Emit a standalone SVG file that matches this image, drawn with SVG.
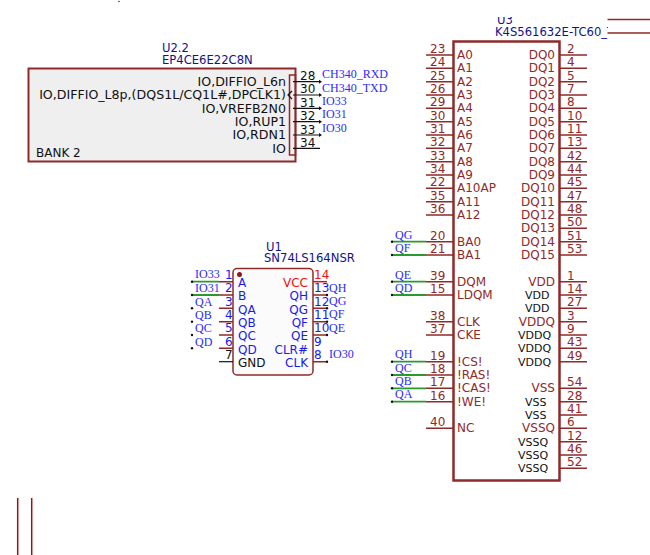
<svg xmlns="http://www.w3.org/2000/svg" width="650" height="555" viewBox="0 0 650 555">
<style>
text{font-family:"DejaVu Sans",sans-serif;font-size:12px}
.n{font-family:"Liberation Serif",serif;font-size:12px;fill:#2a2aff}
.r{text-anchor:end}
.m{fill:#8e2a2a}
.b{fill:#1a1aee}
.k{fill:#111}
.s{font-size:11px}
.u{font-size:12.600px}
.d{fill:#12128a;font-size:11.600px}
.p{stroke:#8e2a2a;stroke-width:1.5;fill:none}
.g{stroke:#2a9a2a;stroke-width:1.8;fill:none}
.w{stroke:#111;stroke-width:1.2;fill:none}
.box{stroke:#8e2a2a;stroke-width:2;fill:#efefef}
</style>
<defs>
<clipPath id="u3clip"><rect x="380" y="17" width="228" height="30"/></clipPath>
</defs>
<g id="U2_2">
<rect class="box" x="28.5" y="68.5" width="267" height="93"/>
<rect x="289.5" y="75" width="6" height="80" fill="none" stroke="#8e2a2a" stroke-width="1.5"/>
<text class="d" x="162" y="52">U2.2</text>
<text class="d" x="162" y="64">EP4CE6E22C8N</text>
<g class="k">
<text class="r u" x="286" y="86">IO,DIFFIO_L6n</text>
<text class="r u" x="286" y="99">IO,DIFFIO_L8p,(DQS1L/CQ1L#,DPCLK1)</text>
<text class="r u" x="286" y="113">IO,VREFB2N0</text>
<text class="r u" x="286" y="126">IO,RUP1</text>
<text class="r u" x="286" y="139">IO,RDN1</text>
<text class="r u" x="286" y="153">IO</text>
<text x="36" y="157">BANK 2</text>
<text x="300" y="80">28</text>
<text x="300" y="93">30</text>
<text x="300" y="107">31</text>
<text x="300" y="120">32</text>
<text x="300" y="134">33</text>
<text x="300" y="147">34</text>
</g>
<path class="w" d="M293 81.700H320M293 95H320M293 108.300H320M293 121.700H320M293 135H320M293 148.300H320"/>
<path class="w" d="M292 91L288 95L292 99"/>
<path d="M319 79.700l3 2l-3 2zM319 93l3 2l-3 2zM319 106.300l3 2l-3 2zM319 119.700l3 2l-3 2zM319 133l3 2l-3 2z" fill="#111"/>
</g>
<g id="U2_2_nets">
<text class="n" x="322" y="78">CH340_RXD</text>
<text class="n" x="322" y="92">CH340_TXD</text>
<text class="n" x="322" y="105">IO33</text>
<text class="n" x="322" y="118">IO31</text>
<text class="n" x="322" y="132">IO30</text>
</g>
<g id="U1">
<rect x="233" y="268.500" width="80" height="106.500" rx="4" fill="#fbfbfb" stroke="#8e2a2a" stroke-width="1.500"/>
<circle cx="239.500" cy="274.500" r="2.500" fill="#8e1a1a"/>
<text class="d" x="266" y="251">U1</text>
<text class="d" x="264" y="262">SN74LS164NSR</text>
<g class="b">
<text x="238" y="287">A</text><text x="238" y="300">B</text><text x="238" y="314">QA</text><text x="238" y="327">QB</text><text x="238" y="340">QC</text><text x="238" y="354">QD</text>
<text class="r" x="308" y="300">QH</text><text class="r" x="308" y="314">QG</text><text class="r" x="308" y="327">QF</text><text class="r" x="308" y="340">QE</text><text class="r" x="308" y="354">CLR#</text><text class="r" x="308" y="367">CLK</text>
<text x="225" y="279">1</text><text x="225" y="292">2</text><text x="225" y="306">3</text><text x="225" y="319">4</text><text x="225" y="332">5</text><text x="225" y="346">6</text>
<text x="314" y="292">13</text><text x="314" y="306">12</text><text x="314" y="319">11</text><text x="314" y="332">10</text><text x="314" y="346">9</text><text x="314" y="359">8</text>
</g>
<text x="238" y="367" class="k">GND</text><text x="225" y="359" class="k">7</text>
<text class="r" x="308" y="287" fill="#f01010">VCC</text><text x="314" y="279" fill="#f01010">14</text>
<path class="p" d="M219 281.700H233M219 295H233M219 308.300H233M219 321.700H233M219 335H233M219 348.300H233"/>
<path d="M313 281.700H327" stroke="#e01010" stroke-width="1.500"/>
<path class="p" d="M313 295H326M313 308.300H326M313 321.700H326M313 335H326M313 361.700H326"/>
<path d="M219 361.700H233" class="w"/>
</g>
<g id="U1_nets">
<text class="n" x="195" y="278">IO33</text>
<text class="n" x="195" y="292">IO31</text>
<text class="n" x="195" y="306">QA</text>
<text class="n" x="195" y="319">QB</text>
<text class="n" x="195" y="332">QC</text>
<text class="n" x="195" y="346">QD</text>
<text class="n" x="329" y="292">QH</text>
<text class="n" x="329" y="305">QG</text>
<text class="n" x="329" y="318">QF</text>
<text class="n" x="329" y="332">QE</text>
<text class="n" x="329" y="358">IO30</text>
</g>
<g id="U3">
<rect x="453.500" y="41.500" width="106" height="439" fill="none" stroke="#8e2a2a" stroke-width="2.500"/>
<g clip-path="url(#u3clip)">
<text class="d" x="497" y="24">U3</text>
<text class="d" x="495" y="36">K4S561632E-TC60_TS</text>
</g>
<path class="p" d="M426 55H453M426 68.300H453M426 81.700H453M426 95H453M426 108.300H453M426 121.700H453M426 135H453M426 148.300H453M426 161.700H453M426 175H453M426 188.300H453M426 201.700H453M426 215H453M426 241.700H453M426 255H453M426 281.700H453M426 295H453M426 321.700H453M426 335H453M426 361.700H453M426 375H453M426 388.300H453M426 401.700H453M426 428.300H453"/>
<path class="p" d="M559 55H587M559 68.300H587M559 81.700H587M559 95H587M559 108.300H587M559 121.700H587M559 135H587M559 148.300H587M559 161.700H587M559 175H587M559 188.300H587M559 201.700H587M559 215H587M559 228.300H587M559 241.700H587M559 255H587M559 281.700H587M559 295H587M559 308.300H587M559 321.700H587M559 335H587M559 348.300H587M559 361.700H587M559 388.300H587M559 401.700H587M559 415H587M559 428.300H587M559 441.700H587M559 455H587M559 468.300H587"/>
<g class="m">
<text x="457" y="59">A0</text><text x="457" y="72">A1</text><text x="457" y="86">A2</text><text x="457" y="99">A3</text><text x="457" y="112">A4</text><text x="457" y="126">A5</text><text x="457" y="139">A6</text><text x="457" y="152">A7</text><text x="457" y="166">A8</text><text x="457" y="179">A9</text><text x="457" y="192">A10AP</text><text x="457" y="206">A11</text><text x="457" y="219">A12</text><text x="457" y="246">BA0</text><text x="457" y="259">BA1</text><text x="457" y="286">DQM</text><text x="457" y="299">LDQM</text><text x="457" y="326">CLK</text><text x="457" y="339">CKE</text><text x="457" y="366">!CS!</text><text x="457" y="379">!RAS!</text><text x="457" y="392">!CAS!</text><text x="457" y="406">!WE!</text><text x="457" y="432">NC</text>
<text class="r" x="555" y="59">DQ0</text><text class="r" x="555" y="72">DQ1</text><text class="r" x="555" y="86">DQ2</text><text class="r" x="555" y="99">DQ3</text><text class="r" x="555" y="112">DQ4</text><text class="r" x="555" y="126">DQ5</text><text class="r" x="555" y="139">DQ6</text><text class="r" x="555" y="152">DQ7</text><text class="r" x="555" y="166">DQ8</text><text class="r" x="555" y="179">DQ9</text><text class="r" x="555" y="192">DQ10</text><text class="r" x="555" y="206">DQ11</text><text class="r" x="555" y="219">DQ12</text><text class="r" x="555" y="232">DQ13</text><text class="r" x="555" y="246">DQ14</text><text class="r" x="555" y="259">DQ15</text>
<text class="r" x="555" y="286">VDD</text><text class="r" x="555" y="326">VDDQ</text><text class="r" x="555" y="392">VSS</text><text class="r" x="555" y="432">VSSQ</text>
<text x="430" y="53">23</text><text x="430" y="66">24</text><text x="430" y="80">25</text><text x="430" y="93">26</text><text x="430" y="106">29</text><text x="430" y="120">30</text><text x="430" y="133">31</text><text x="430" y="146">32</text><text x="430" y="160">33</text><text x="430" y="173">34</text><text x="430" y="186">22</text><text x="430" y="200">35</text><text x="430" y="213">36</text><text x="430" y="240">20</text><text x="430" y="253">21</text><text x="430" y="280">39</text><text x="430" y="293">15</text><text x="430" y="320">38</text><text x="430" y="333">37</text><text x="430" y="360">19</text><text x="430" y="373">18</text><text x="430" y="386">17</text><text x="430" y="400">16</text><text x="430" y="426">40</text>
<text x="567" y="53">2</text><text x="567" y="66">4</text><text x="567" y="80">5</text><text x="567" y="93">7</text><text x="567" y="106">8</text><text x="567" y="120">10</text><text x="567" y="133">11</text><text x="567" y="146">13</text><text x="567" y="160">42</text><text x="567" y="173">44</text><text x="567" y="186">45</text><text x="567" y="200">47</text><text x="567" y="213">48</text><text x="567" y="226">50</text><text x="567" y="240">51</text><text x="567" y="253">53</text><text x="567" y="280">1</text><text x="567" y="293">14</text><text x="567" y="306">27</text><text x="567" y="320">3</text><text x="567" y="333">9</text><text x="567" y="346">43</text><text x="567" y="360">49</text><text x="567" y="386">54</text><text x="567" y="400">28</text><text x="567" y="413">41</text><text x="567" y="426">6</text><text x="567" y="440">12</text><text x="567" y="453">46</text><text x="567" y="466">52</text>
</g>
<g class="k">
<text class="s" x="525" y="299">VDD</text><text class="s" x="525" y="312">VDD</text>
<text class="s" x="518" y="339">VDDQ</text><text class="s" x="518" y="352">VDDQ</text><text class="s" x="518" y="366">VDDQ</text>
<text class="s" x="525" y="406">VSS</text><text class="s" x="525" y="419">VSS</text>
<text class="s" x="518" y="446">VSSQ</text><text class="s" x="518" y="459">VSSQ</text><text class="s" x="518" y="472">VSSQ</text>
</g>
</g>
<g id="U3_nets">
<text class="n" x="395" y="239">QG</text>
<text class="n" x="395" y="252">QF</text>
<text class="n" x="395" y="279">QE</text>
<text class="n" x="395" y="292">QD</text>
<text class="n" x="395" y="358">QH</text>
<text class="n" x="395" y="372">QC</text>
<text class="n" x="395" y="385">QB</text>
<text class="n" x="395" y="398">QA</text>
</g>
<g id="connectors">
<path class="g" d="M192 281.700H219M192 295H219M392 241.700H426M392 255H426M392 281.700H426M392 295H426M392 361.700H426M392 375H426M392 388.300H426M392 401.700H426"/>
<path class="p" d="M607.500 19.500H650M607.500 33H650"/>
<path d="M17.700 498V555M31.700 498V555" stroke="#a01010" stroke-width="1.500" fill="none"/>
<g fill="#111">
<circle cx="119" cy="1.500" r="0.700"/>
<circle cx="192" cy="281.700" r="1.200"/><circle cx="192" cy="295" r="1.200"/><circle cx="192" cy="308.300" r="1.200"/><circle cx="192" cy="321.700" r="1.200"/><circle cx="192" cy="335" r="1.200"/><circle cx="192" cy="348.300" r="1.200"/>
<circle cx="327" cy="295" r="1.200"/><circle cx="327" cy="308.300" r="1.200"/><circle cx="327" cy="321.700" r="1.200"/><circle cx="327" cy="335" r="1.200"/><circle cx="327" cy="361.700" r="1.200"/>
<circle cx="392" cy="241.700" r="1.200"/><circle cx="392" cy="255" r="1.200"/><circle cx="392" cy="281.700" r="1.200"/><circle cx="392" cy="295" r="1.200"/><circle cx="392" cy="361.700" r="1.200"/><circle cx="392" cy="375" r="1.200"/><circle cx="392" cy="388.300" r="1.200"/><circle cx="392" cy="401.700" r="1.200"/>
</g>
</g>
</svg>
